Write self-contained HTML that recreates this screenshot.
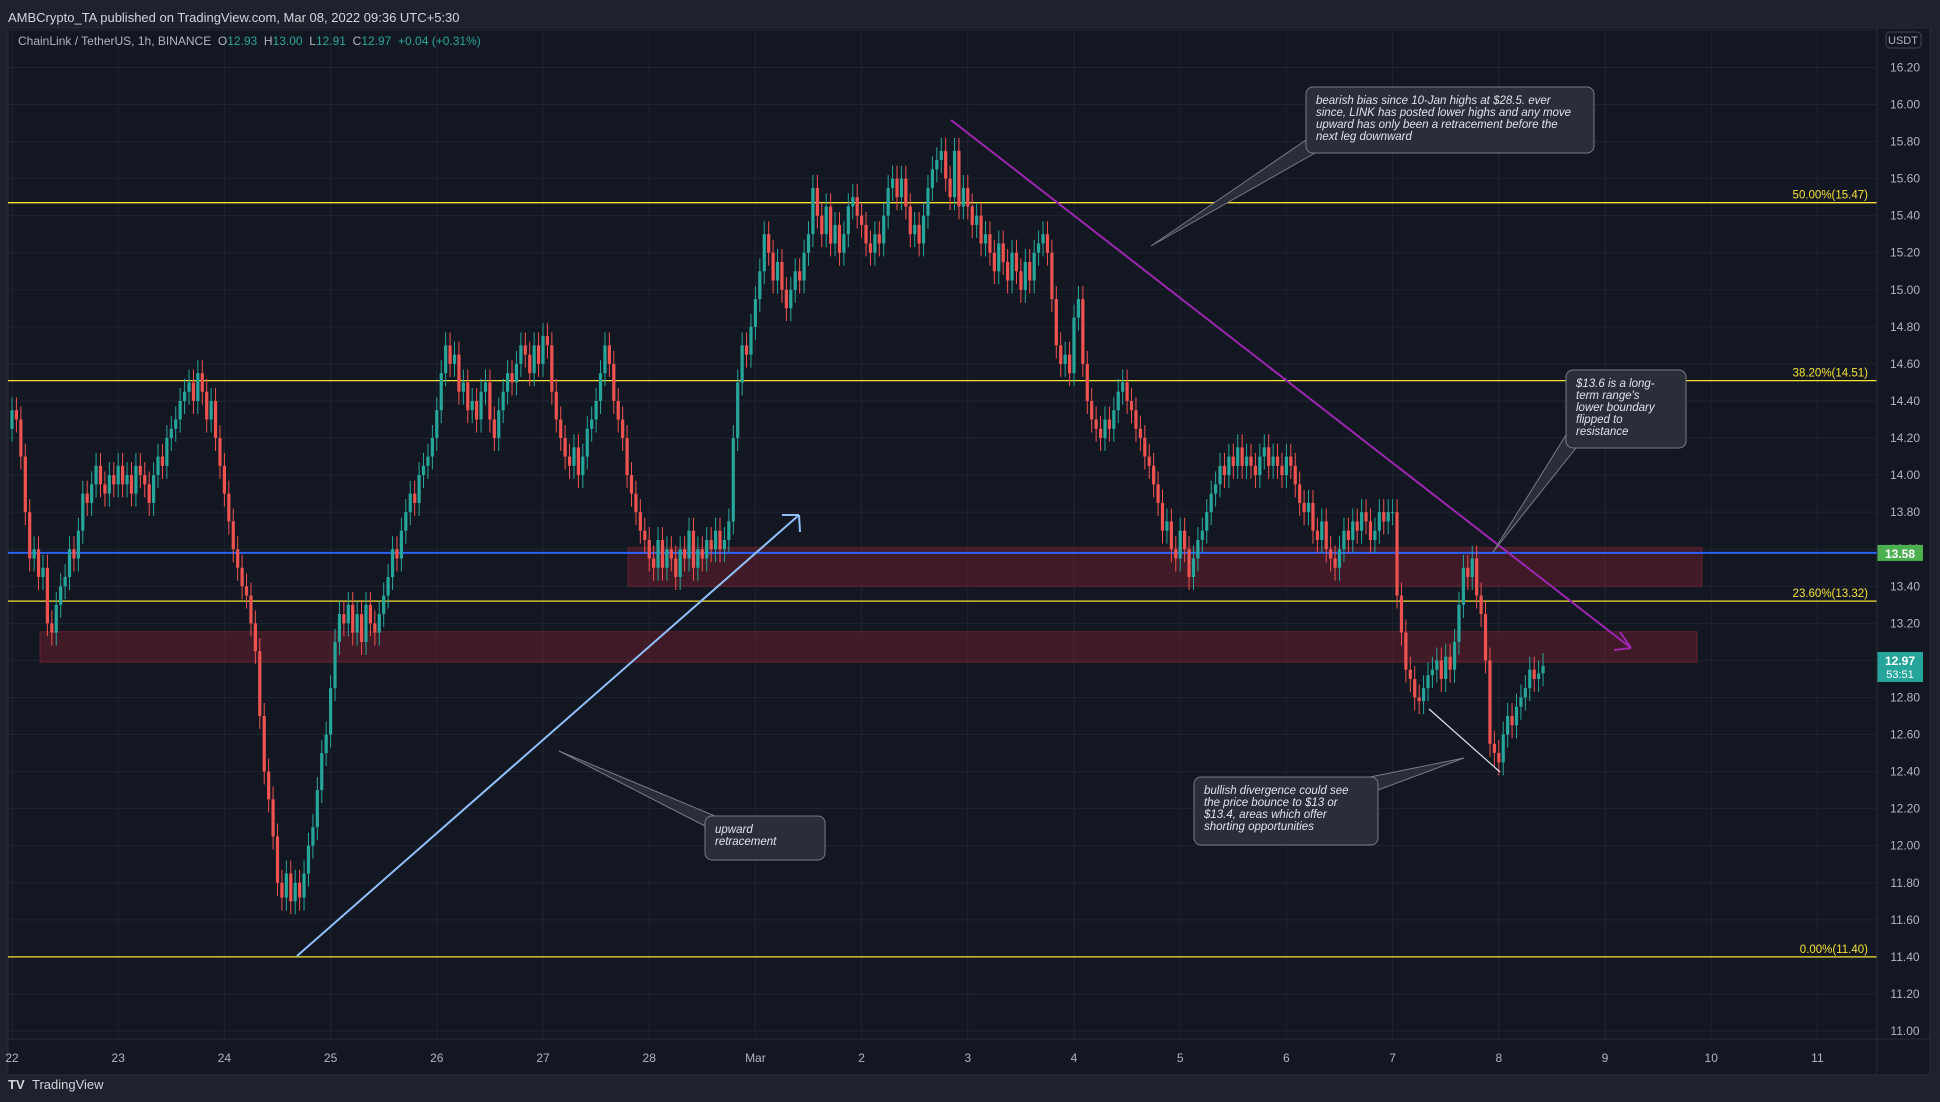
<!DOCTYPE html>
<html><head><meta charset="utf-8">
<style>
html,body{margin:0;padding:0;background:#1e222d;width:1940px;height:1102px;overflow:hidden;font-family:"Liberation Sans",sans-serif}
svg text{font-family:"Liberation Sans",sans-serif}
</style></head>
<body>
<svg id="chart" width="1940" height="1102" xmlns="http://www.w3.org/2000/svg">
<rect x="0" y="0" width="1940" height="1102" fill="#1e222d"/>
<text x="8" y="22" fill="#d1d4dc" font-size="13">AMBCrypto_TA published on TradingView.com, Mar 08, 2022 09:36 UTC+5:30</text>
<rect x="8" y="28" width="1922" height="1047" fill="#131722" stroke="#2a2e39"/>
<g id="grid"></g>
<g id="zones"></g>
<g id="fibs"></g>
<g id="candles"></g>
<g id="draw"></g>
<g id="axis"></g>
<line x1="1877" y1="28" x2="1877" y2="1075" stroke="#2a2e39"/>
<line x1="8" y1="1039" x2="1930" y2="1039" stroke="#2a2e39"/>
<text x="18" y="45" fill="#b2b5be" font-size="12">ChainLink / TetherUS, 1h, BINANCE&#160;&#160;O<tspan fill="#26a69a">12.93</tspan>&#160;&#160;H<tspan fill="#26a69a">13.00</tspan>&#160;&#160;L<tspan fill="#26a69a">12.91</tspan>&#160;&#160;C<tspan fill="#26a69a">12.97</tspan>&#160;&#160;<tspan fill="#26a69a">+0.04 (+0.31%)</tspan></text>
<g><text x="8" y="1089" fill="#d1d4dc" font-size="13" font-weight="bold">TV</text><text x="32" y="1089" fill="#d1d4dc" font-size="13">TradingView</text></g>
</svg>
<script>
const NS='http://www.w3.org/2000/svg';
const priceTicks=[11.0,11.2,11.4,11.6,11.8,12.0,12.2,12.4,12.6,12.8,13.0,13.2,13.4,13.6,13.8,14.0,14.2,14.4,14.6,14.8,15.0,15.2,15.4,15.6,15.8,16.0,16.2,16.4];
const dayLabels=['22','23','24','25','26','27','28','Mar','2','3','4','5','6','7','8','9','10','11'];
const fibLevels=[15.47,14.51,13.32,11.40];
const fibLabels=['50.00%(15.47)','38.20%(14.51)','23.60%(13.32)','0.00%(11.40)'];
const supportLevel=13.58;
const zoneTop=[13.61,13.155];
const zoneBottom=[13.40,12.99];
const closes=[
14.35,14.30,14.10,13.80,13.55,13.60,13.45,13.50,13.20,13.15,13.30,13.40,13.45,13.60,13.55,13.70,13.90,13.85,13.95,14.05,13.95,13.90,14.00,13.95,
14.05,13.95,14.00,13.90,14.05,14.00,13.95,13.85,14.00,14.10,14.05,14.20,14.25,14.30,14.40,14.45,14.50,14.40,14.55,14.45,14.30,14.40,14.20,14.05,
13.90,13.75,13.60,13.50,13.40,13.35,13.20,13.05,12.70,12.40,12.25,12.05,11.80,11.72,11.85,11.70,11.80,11.72,11.85,12.00,12.10,12.30,12.50,12.60,
12.85,13.10,13.25,13.20,13.30,13.15,13.25,13.10,13.30,13.20,13.15,13.25,13.35,13.45,13.60,13.55,13.70,13.80,13.90,13.85,14.00,14.05,14.10,14.20,
14.35,14.55,14.70,14.60,14.65,14.45,14.50,14.35,14.40,14.30,14.45,14.50,14.30,14.20,14.35,14.45,14.55,14.50,14.60,14.70,14.65,14.55,14.70,14.60,
14.75,14.70,14.45,14.30,14.20,14.10,14.05,14.15,14.00,14.10,14.25,14.30,14.40,14.55,14.70,14.60,14.40,14.30,14.20,14.00,13.90,13.80,13.70,13.65,
13.55,13.50,13.65,13.50,13.60,13.55,13.45,13.60,13.55,13.70,13.50,13.60,13.55,13.65,13.60,13.70,13.60,13.65,13.75,14.20,14.50,14.70,14.65,14.80,
14.95,15.10,15.30,15.20,15.05,15.15,15.00,14.90,15.00,15.10,15.05,15.20,15.30,15.55,15.40,15.30,15.45,15.25,15.35,15.20,15.30,15.45,15.50,15.40,
15.35,15.25,15.20,15.30,15.25,15.40,15.55,15.60,15.50,15.60,15.45,15.30,15.35,15.25,15.40,15.55,15.65,15.70,15.75,15.60,15.50,15.75,15.45,15.55,
15.45,15.35,15.40,15.25,15.30,15.20,15.10,15.25,15.15,15.05,15.20,15.10,15.00,15.15,15.05,15.20,15.25,15.30,15.20,14.95,14.70,14.60,14.65,14.55,
14.85,14.95,14.60,14.40,14.30,14.25,14.20,14.30,14.25,14.35,14.45,14.50,14.40,14.35,14.25,14.20,14.10,14.05,13.95,13.85,13.70,13.75,13.60,13.55,
13.70,13.60,13.45,13.55,13.65,13.70,13.80,13.90,13.95,14.05,14.00,14.10,14.05,14.15,14.05,14.10,14.05,14.00,14.10,14.15,14.05,14.10,14.05,14.00,
14.10,14.05,13.95,13.85,13.80,13.85,13.70,13.65,13.75,13.60,13.55,13.50,13.60,13.70,13.65,13.75,13.70,13.80,13.75,13.65,13.70,13.80,13.75,13.80,
13.80,13.35,13.15,12.95,12.90,12.80,12.78,12.85,12.92,12.95,13.00,12.90,13.02,12.95,13.10,13.30,13.50,13.45,13.55,13.35,13.25,13.00,12.55,12.50,
12.45,12.60,12.70,12.65,12.75,12.80,12.85,12.95,12.90,12.93,12.97];
const firstOpen=14.25;
const wick=0.07;

const y=p=>1031-(p-11)*185.3;
const xd=d=>12+106.2*d;
const xh=i=>12+i*4.425;
function mk(tag,attrs,parent){const e=document.createElementNS(NS,tag);for(const k in attrs)e.setAttribute(k,attrs[k]);document.getElementById(parent).appendChild(e);return e;}

priceTicks.forEach(p=>{const l=mk('line',{x1:8,x2:1877,y1:y(p),y2:y(p),stroke:'#1f2431','stroke-width':1},'grid');

});
dayLabels.forEach((d,i)=>{const l=mk('line',{x1:xd(i),x2:xd(i),y1:28,y2:1039,stroke:'#1f2431','stroke-width':1},'grid');


const t=mk('text',{x:xd(i),y:1062,fill:'#b2b5be','font-size':12,'text-anchor':'middle'},'grid');t.textContent=d;

});

const zx1=[628,40],zx2=[1702,1697];
zoneTop.forEach((t,i)=>{const r=mk('rect',{x:zx1[i],y:y(t),width:zx2[i]-zx1[i],height:y(zoneBottom[i])-y(t),fill:'rgba(120,30,45,0.45)',stroke:'rgba(150,40,55,0.5)'},'zones');

});

fibLevels.forEach((p,i)=>{const l=mk('line',{x1:8,x2:1877,y1:y(p),y2:y(p),stroke:'#f5e133','stroke-width':1.3},'fibs');


const t=mk('text',{x:1868,y:y(p)-4,fill:'#f5e133','font-size':11.5,'text-anchor':'end'},'fibs');t.textContent=fibLabels[i];

});
const sl=mk('line',{x1:8,x2:1877,y1:y(supportLevel),y2:y(supportLevel),stroke:'#2962ff','stroke-width':2},'fibs');



closes.forEach((c,i)=>{const o=i?closes[i-1]:firstOpen;const up=c>=o;const col=up?'#26a69a':'#ef5350';
const x=xh(i);const hi=Math.max(o,c)+wick,lo=Math.min(o,c)-wick;
const g=mk('g',{},'candles');


const w=document.createElementNS(NS,'line');w.setAttribute('x1',x);w.setAttribute('x2',x);w.setAttribute('y1',y(hi));w.setAttribute('y2',y(lo));w.setAttribute('stroke',col);g.appendChild(w);
const b=document.createElementNS(NS,'rect');const top=y(Math.max(o,c));b.setAttribute('x',x-1.6);b.setAttribute('width',3.2);b.setAttribute('y',top);b.setAttribute('height',Math.max(1,y(Math.min(o,c))-top));b.setAttribute('fill',col);g.appendChild(b);});

function line(a,nm,col,sw){const l=mk('line',a,'draw');l.setAttribute('stroke',col);l.setAttribute('stroke-width',sw);

return l;}
line({x1:951,y1:120,x2:1631,y2:648},'downtrend-line','#9c27b0',2);
line({x1:1631,y1:648,x2:1620,y2:632},'downtrend-arrowhead','#9c27b0',2);
line({x1:1631,y1:648,x2:1614,y2:650},'downtrend-arrowhead','#9c27b0',2);
line({x1:297,y1:956,x2:799,y2:515},'upward-retracement-line','#90bff9',2);
line({x1:799,y1:515,x2:782,y2:515},'retracement-arrowhead','#90bff9',2);
line({x1:799,y1:515,x2:800,y2:532},'retracement-arrowhead','#90bff9',2);
line({x1:1429,y1:709,x2:1500,y2:772},'divergence-line','#e0e3eb',1.2);

function callout(nm,bx,by,bw,bh,tx1,tx2,px,py,lines){
const g=mk('g',{},'draw');


const p=document.createElementNS(NS,'polygon');p.setAttribute('points',`${tx1[0]},${tx1[1]} ${px},${py} ${tx2[0]},${tx2[1]}`);p.setAttribute('fill','#2a2e39');p.setAttribute('stroke','#787b86');g.appendChild(p);
const r=document.createElementNS(NS,'rect');r.setAttribute('x',bx);r.setAttribute('y',by);r.setAttribute('width',bw);r.setAttribute('height',bh);r.setAttribute('rx',7);r.setAttribute('fill','#2a2e39');r.setAttribute('stroke','#787b86');g.appendChild(r);
const t=document.createElementNS(NS,'text');t.setAttribute('fill','#e0e3eb');t.setAttribute('font-size','11.5');t.setAttribute('font-style','italic');
lines.forEach((s,k)=>{const ts=document.createElementNS(NS,'tspan');ts.setAttribute('x',bx+10);ts.setAttribute('y',by+17+k*12);ts.textContent=s;t.appendChild(ts);});g.appendChild(t);}
callout('bearish-bias-note',1306,87,288,66,[1306,140],[1315,153],1151,246,['bearish bias since 10-Jan highs at $28.5. ever','since, LINK has posted lower highs and any move','upward has only been a retracement before the','next leg downward']);
callout('resistance-note',1566,370,120,78,[1566,435],[1576,448],1493,552,['$13.6 is a long-','term range\'s','lower boundary','flipped to','resistance']);
callout('divergence-note',1194,777,184,68,[1370,777],[1378,790],1464,758,['bullish divergence could see','the price bounce to $13 or','$13.4, areas which offer','shorting opportunities']);
callout('retracement-note',705,816,120,44,[705,826],[715,816],559,751,['upward','retracement']);

priceTicks.forEach(p=>{if(p>16.3)return;const t=mk('text',{x:1905,y:y(p)+4,fill:'#b2b5be','font-size':12,'text-anchor':'middle'},'axis');t.textContent=p.toFixed(2);

});
const u=mk('rect',{x:1886,y:32,width:35,height:16,rx:4,fill:'#131722',stroke:'#434651'},'axis');


const ut=mk('text',{x:1903,y:44,fill:'#b2b5be','font-size':11,'text-anchor':'middle'},'axis');ut.textContent='USDT';


const sb=mk('rect',{x:1877,y:y(supportLevel)-8,width:46,height:16,fill:'#4caf50'},'axis');


const st=mk('text',{x:1900,y:y(supportLevel)+5,fill:'#fff','font-size':12,'font-weight':'bold','text-anchor':'middle'},'axis');st.textContent=supportLevel.toFixed(2);


const last=closes[closes.length-1];
const lb=mk('rect',{x:1877,y:y(last)-14,width:46,height:30,fill:'#26a69a'},'axis');


const lt=mk('text',{x:1900,y:y(last)-1,fill:'#fff','font-size':12,'font-weight':'bold','text-anchor':'middle'},'axis');lt.textContent=last.toFixed(2);


const ct=mk('text',{x:1900,y:y(last)+12,fill:'#fff','font-size':11,'text-anchor':'middle'},'axis');ct.textContent='53:51';


</script>
</body></html>
